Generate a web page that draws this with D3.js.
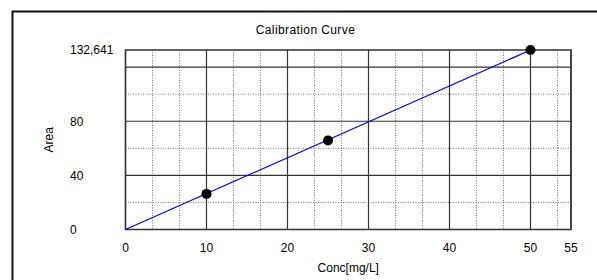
<!DOCTYPE html>
<html>
<head>
<meta charset="utf-8">
<script src="https://cdn.jsdelivr.net/npm/d3@7.9.0/dist/d3.min.js"></script>
<style>
  html, body { margin: 0; padding: 0; background: #fff; }
  svg { display: block; }
</style>
</head>
<body>
<div id="chart"></div>
<script>
// Calibration standards
const concValues = [10, 25, 50];
const areaValues = [26.3, 65.8, 132.641];
// Fitted line end points (conc, area)
const fitConc = [0, 50];
const fitArea = [0, 132.641];

const xTicks = [0, 10, 20, 30, 40, 50, 55];
const xMinor = [10 / 3, 20 / 3, 40 / 3, 50 / 3, 70 / 3, 80 / 3, 100 / 3, 110 / 3,
                130 / 3, 140 / 3, 160 / 3];
const yTicks = [0, 40, 80, 120];
const yMinor = [20, 60, 100];
const yLabelValues = [0, 40, 80, 132.641];
const yLabelTexts = ['0', '40', '80', '132,641'];
const xMax = 55;
const yMax = 132.641;

const W = 597, H = 280;
const FONT = 'Liberation Sans, Arial, sans-serif';
const plot = { left: 125.5, right: 571, top: 50, bottom: 229.5 };

const svg = d3.select('#chart')
    .append('svg')
    .attr('width', W)
    .attr('height', H);

// outer frame (runs off the right/bottom edge)
svg.append('rect')
    .attr('x', 12.5).attr('y', 11.5)
    .attr('width', W).attr('height', H)
    .attr('fill', 'none')
    .attr('stroke', '#111')
    .attr('stroke-width', 2);

const x = d3.scaleLinear().domain([0, xMax]).range([plot.left, plot.right]);
const y = d3.scaleLinear().domain([0, yMax]).range([plot.bottom, plot.top]);

const grid = svg.append('g');

// dotted minor grid
grid.selectAll('line.xmin')
    .data(xMinor)
    .join('line')
    .attr('x1', d => x(d)).attr('x2', d => x(d))
    .attr('y1', plot.top).attr('y2', plot.bottom)
    .attr('stroke', '#777')
    .attr('stroke-dasharray', '1,1.5');

grid.selectAll('line.ymin')
    .data(yMinor)
    .join('line')
    .attr('y1', d => y(d)).attr('y2', d => y(d))
    .attr('x1', plot.left).attr('x2', plot.right)
    .attr('stroke', '#777')
    .attr('stroke-dasharray', '1,1.5');

// solid major grid
grid.selectAll('line.xmaj')
    .data(xTicks)
    .join('line')
    .attr('x1', d => x(d)).attr('x2', d => x(d))
    .attr('y1', plot.top).attr('y2', plot.bottom)
    .attr('stroke', '#333')
    .attr('stroke-width', 1.2);

grid.selectAll('line.ymaj')
    .data(yTicks)
    .join('line')
    .attr('y1', d => y(d)).attr('y2', d => y(d))
    .attr('x1', plot.left).attr('x2', plot.right)
    .attr('stroke', '#333')
    .attr('stroke-width', 1.2);

// plot frame
svg.append('rect')
    .attr('x', plot.left).attr('y', plot.top)
    .attr('width', plot.right - plot.left)
    .attr('height', plot.bottom - plot.top)
    .attr('fill', 'none')
    .attr('stroke', '#333')
    .attr('stroke-width', 1.5);

// x tick labels
svg.append('g')
    .selectAll('text')
    .data(xTicks)
    .join('text')
    .attr('x', d => x(d))
    .attr('y', 252)
    .attr('text-anchor', 'middle')
    .attr('font-family', FONT)
    .attr('font-size', '12px')
    .attr('fill', '#000')
    .text(d => d);

// y tick labels (left aligned)
svg.append('g')
    .selectAll('text')
    .data(yLabelValues)
    .join('text')
    .attr('x', 70)
    .attr('y', d => y(d))
    .attr('dy', '0.36em')
    .attr('font-family', FONT)
    .attr('font-size', '12px')
    .attr('fill', '#000')
    .text((d, i) => yLabelTexts[i]);

// fitted line
const line = d3.line()
    .x((d, i) => x(fitConc[i]))
    .y((d, i) => y(fitArea[i]));

svg.append('path')
    .datum(fitConc)
    .attr('d', line)
    .attr('fill', 'none')
    .attr('stroke', '#0000ff')
    .attr('stroke-width', 1.2);

// standards
svg.append('g')
    .selectAll('circle')
    .data(concValues)
    .join('circle')
    .attr('cx', d => x(d))
    .attr('cy', (d, i) => y(areaValues[i]))
    .attr('r', 5)
    .attr('fill', '#000');

// titles
svg.append('text')
    .attr('x', 305.5)
    .attr('y', 33.5)
    .attr('text-anchor', 'middle')
    .attr('font-family', FONT)
    .attr('font-size', '12px')
    .attr('letter-spacing', '0.4px')
    .text('Calibration Curve');

svg.append('text')
    .attr('x', (plot.left + plot.right) / 2)
    .attr('y', 271.5)
    .attr('text-anchor', 'middle')
    .attr('font-family', FONT)
    .attr('font-size', '12px')
    .text('Conc[mg/L]');

svg.append('text')
    .attr('transform', `translate(53,${(plot.top + plot.bottom) / 2}) rotate(-90)`)
    .attr('text-anchor', 'middle')
    .attr('font-family', FONT)
    .attr('font-size', '12px')
    .text('Area');
</script>
</body>
</html>
